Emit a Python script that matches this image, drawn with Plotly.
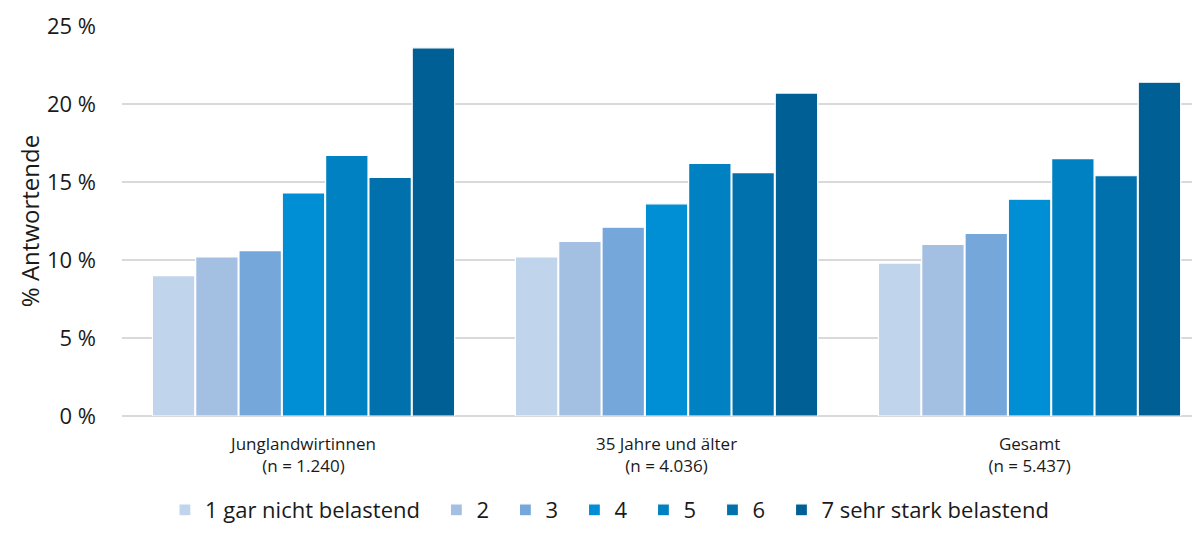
import plotly.graph_objects as go

gruppen = ["Junglandwirtinnen<br>(n = 1.240)", "35 Jahre und älter<br>(n = 4.036)", "Gesamt<br>(n = 5.437)"]
stufen = ["1 gar nicht belastend", "2", "3", "4", "5", "6", "7 sehr stark belastend"]
farben = ["#C0D4EC", "#A3BFE2", "#76A7DA", "#008ED5", "#0081C2", "#0071AD", "#006096"]

# Anteile in % je Stufe (Junglandwirtinnen, 35+, Gesamt)
werte = [
    [9.0, 10.2, 9.8],
    [10.2, 11.2, 11.0],
    [10.6, 12.1, 11.7],
    [14.3, 13.6, 13.9],
    [16.7, 16.2, 16.5],
    [15.3, 15.6, 15.4],
    [23.6, 20.7, 21.4],
]

fig = go.Figure()
for i, (name, farbe, y) in enumerate(zip(stufen, farben, werte)):
    # geschützte Leerzeichen hinten -> etwas mehr Abstand in der Legende
    label = name if i == len(stufen) - 1 else name + "\u00a0\u00a0"
    fig.add_trace(
        go.Bar(
            name=label,
            x=gruppen,
            y=y,
            marker=dict(color=farbe, line=dict(color="white", width=1.2)),
        )
    )

# Seite hat 8px Body-Rand -> Figur etwas kleiner als das Fenster
fig.update_layout(
    width=1190,
    height=523,
    barmode="group",
    bargap=0.165,
    bargroupgap=0.02,
    plot_bgcolor="white",
    paper_bgcolor="white",
    font=dict(family="Open Sans", color="#1a1a1a"),
    margin=dict(l=114, r=0, t=18, b=115),
    legend=dict(
        orientation="h",
        x=0.453,
        xanchor="center",
        y=-0.295,
        yanchor="bottom",
        font=dict(size=22),
        itemwidth=30,
        traceorder="normal",
    ),
    # im Original ist die Zeichenfläche rechts abgeschnitten
    xaxis=dict(
        range=[-0.5, 2.464],
        tickfont=dict(size=17),
        ticks="",
        showline=False,
        ticklabelstandoff=16,
    ),
    yaxis=dict(
        range=[0, 25],
        dtick=5,
        ticksuffix=" %",
        tickfont=dict(size=22),
        gridcolor="#D9D9D9",
        gridwidth=1.5,
        zeroline=True,
        zerolinecolor="#D9D9D9",
        zerolinewidth=1.5,
        ticklabelstandoff=25,
        title=dict(text="% Antwortende", font=dict(size=24), standoff=0),
    ),
)

fig.write_html("out.html")
